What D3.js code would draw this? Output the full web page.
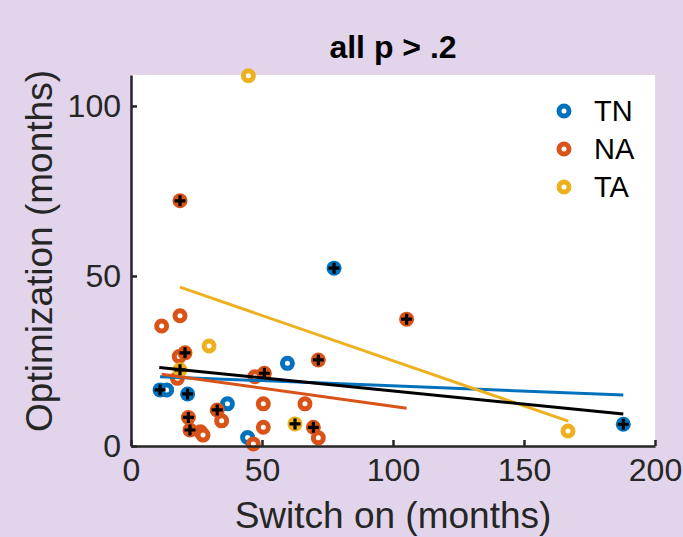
<!DOCTYPE html>
<html>
<head>
<meta charset="utf-8">
<script src="https://cdn.jsdelivr.net/npm/d3@7"></script>
<style>
  html, body { margin: 0; padding: 0; background: #e2d5eb; }
  svg { display: block; font-family: "Liberation Sans", Arial, sans-serif; }
</style>
</head>
<body>
<div id="chart"></div>
<script>
// group names and colours (matlab default order)
var groups = ["TN", "NA", "TA"];
var colors = ["#0072bd", "#d95319", "#edb120"];

// switch on (x) / optimization (y) in months, cross = 1 marks a flagged subject
var tnX = [11.1, 13.6, 21.6, 36.8, 44.5, 59.7, 77.5, 187.9];
var tnY = [16.5, 16.5, 15.3, 12.4, 2.5, 24.3, 52.3, 6.4];
var tnCross = [1, 0, 1, 0, 0, 0, 1, 1];

var naX = [11.7, 18.7, 18.7, 18.4, 20.6, 17.7, 32.9, 34.6, 21.9, 22.5, 26.5, 27.5,
           47.3, 50.9, 50.5, 66.4, 50.5, 69.6, 71.5, 46.7, 71.5, 105.2];
var naY = [35.3, 38.3, 72.1, 26.3, 27.4, 19.9, 10.6, 7.4, 8.4, 4.7, 4.2, 3.2,
           20.4, 21.4, 12.4, 12.4, 5.5, 5.5, 2.4, 0.6, 25.3, 37.3];
var naCross = [0, 0, 1, 0, 1, 0, 1, 0, 1, 1, 0, 0,
               0, 1, 0, 0, 0, 1, 0, 0, 1, 1];

var taX = [44.8, 29.8, 18.7, 62.6, 166.8];
var taY = [108.9, 29.4, 22.4, 6.5, 4.4];
var taCross = [0, 0, 1, 1, 0];

// fitted lines, start and end points
var tnFit = [[11.1, 20.4], [187.9, 15.0]];
var naFit = [[11.7, 21.1], [105.2, 11.1]];
var taFit = [[18.7, 46.7], [166.9, 7.3]];
var allFit = [[10.8, 23.1], [187.9, 9.4]];

var xTicks = [0, 50, 100, 150, 200];
var yTicks = [0, 50, 100];

var width = 683, height = 537;
var ink = "#262626";

var svg = d3.select("#chart").append("svg")
  .attr("width", width)
  .attr("height", height);

var x = d3.scaleLinear().domain([0, 200]).range([131, 655]);
var y = d3.scaleLinear().domain([0, 109.1]).range([446, 75]);

// white plot area
svg.append("rect")
  .attr("x", x(0)).attr("y", y(109.1))
  .attr("width", x(200) - x(0)).attr("height", y(0) - y(109.1))
  .attr("fill", "#fff");

function zipPoints(xs, ys, cs, g) {
  return xs.map(function(v, i) { return { x: v, y: ys[i], cross: cs[i], g: g }; });
}
var points = zipPoints(tnX, tnY, tnCross, 0)
  .concat(zipPoints(naX, naY, naCross, 1))
  .concat(zipPoints(taX, taY, taCross, 2));

var marks = svg.append("g");

// rings (flagged ones are filled under the cross)
marks.selectAll("circle")
  .data(points)
  .enter().append("circle")
  .attr("cx", function(d) { return x(d.x); })
  .attr("cy", function(d) { return y(d.y); })
  .attr("r", function(d) { return d.cross ? 7.5 : 5; })
  .attr("fill", function(d) { return d.cross ? colors[d.g] : "#fff"; })
  .attr("stroke", function(d) { return d.cross ? "none" : colors[d.g]; })
  .attr("stroke-width", 5);

// fit lines
var line = d3.line()
  .x(function(d) { return x(d[0]); })
  .y(function(d) { return y(d[1]); });

var fits = [tnFit, naFit, taFit, allFit];
var fitColors = colors.concat(["#000"]);
svg.append("g").selectAll("path")
  .data(fits)
  .enter().append("path")
  .attr("d", line)
  .attr("fill", "none")
  .attr("stroke", function(d, i) { return fitColors[i]; })
  .attr("stroke-width", 3);

// black crosses on flagged subjects
svg.append("g").selectAll("path")
  .data(points.filter(function(d) { return d.cross; }))
  .enter().append("path")
  .attr("d", function(d) {
    var cx = x(d.x), cy = y(d.y), s = 5.5;
    return "M" + (cx - s) + "," + cy + "H" + (cx + s) + "M" + cx + "," + (cy - s) + "V" + (cy + s);
  })
  .attr("stroke", "#000")
  .attr("stroke-width", 3.2);

// axes, ticks pointing inward
var xAxis = svg.append("g")
  .attr("transform", "translate(0," + y(0) + ")")
  .call(d3.axisBottom(x).tickValues(xTicks).tickSizeInner(-6).tickSizeOuter(0).tickPadding(12));
var yAxis = svg.append("g")
  .attr("transform", "translate(" + x(0) + ",0)")
  .call(d3.axisLeft(y).tickValues(yTicks).tickSizeInner(-6).tickSizeOuter(0).tickPadding(10));

[xAxis, yAxis].forEach(function(a) {
  a.select(".domain").attr("stroke", ink).attr("stroke-width", 2.5);
  a.selectAll(".tick line").attr("stroke", ink).attr("stroke-width", 2.5);
  a.selectAll(".tick text")
    .attr("fill", ink)
    .style("font-size", "32px")
    .style("font-family", "Liberation Sans, Arial, sans-serif");
});
xAxis.selectAll(".tick text").attr("dy", "0.71em");

// labels and title
svg.append("text")
  .attr("x", (x(0) + x(200)) / 2).attr("y", 528)
  .attr("text-anchor", "middle")
  .attr("fill", ink)
  .style("font-size", "37px")
  .text("Switch on (months)");

svg.append("text")
  .attr("transform", "translate(52," + 251 + ") rotate(-90)")
  .attr("text-anchor", "middle")
  .attr("fill", ink)
  .style("font-size", "37px")
  .text("Optimization (months)");

svg.append("text")
  .attr("x", (x(0) + x(200)) / 2).attr("y", 58)
  .attr("text-anchor", "middle")
  .attr("fill", "#000")
  .style("font-size", "32px")
  .style("font-weight", "bold")
  .text("all p > .2");

// legend
var legend = svg.append("g").selectAll("g")
  .data(groups)
  .enter().append("g")
  .attr("transform", function(d, i) { return "translate(564," + (111 + i * 38) + ")"; });

legend.append("circle")
  .attr("r", 5)
  .attr("fill", "#fff")
  .attr("stroke", function(d, i) { return colors[i]; })
  .attr("stroke-width", 5);

legend.append("text")
  .attr("x", 30)
  .attr("dy", "0.36em")
  .attr("fill", "#000")
  .style("font-size", "29px")
  .text(function(d) { return d; });
</script>
</body>
</html>
